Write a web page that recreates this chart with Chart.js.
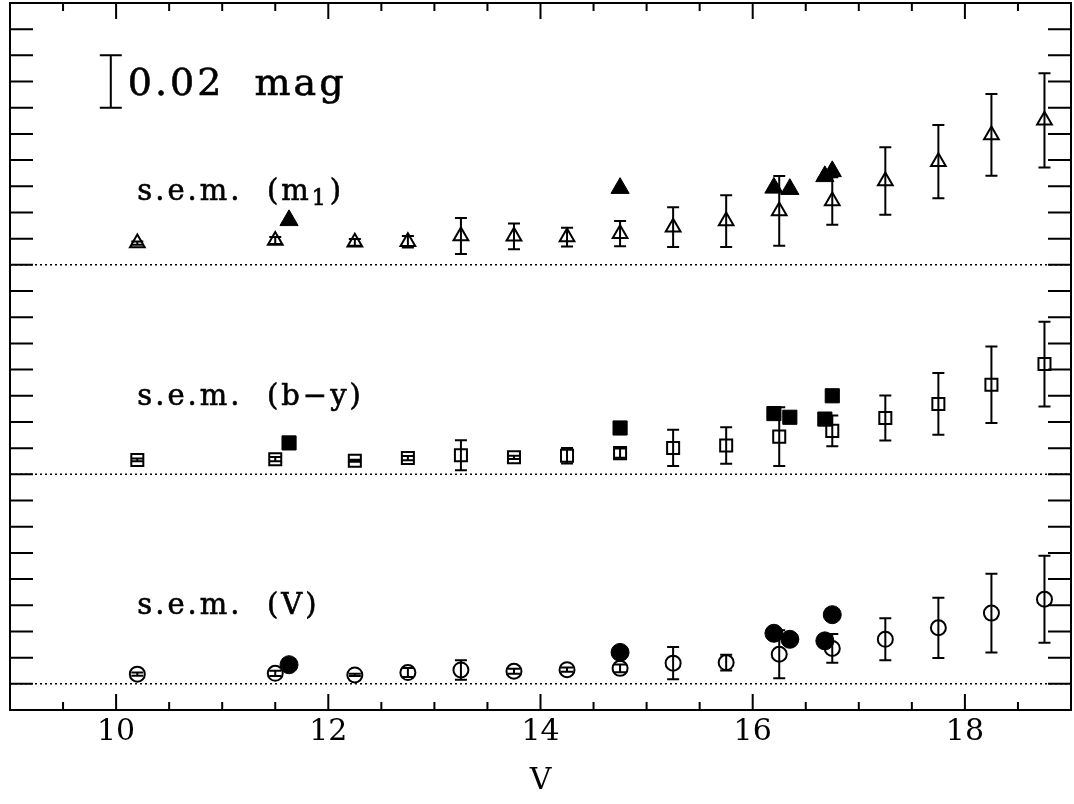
<!DOCTYPE html>
<html>
<head>
<meta charset="utf-8">
<script src="https://cdn.jsdelivr.net/npm/chart.js@4.4.1/dist/chart.umd.min.js"></script>
<style>
	html, body { margin: 0; padding: 0; background: #fff; }
	canvas { display: block; }
</style>
</head>
<body>
<canvas id="chart" width="1074" height="804"></canvas>
<script>
// V bins of the open symbols
const vBins = [10.2, 11.5, 12.25, 12.75, 13.25, 13.75, 14.25, 14.75, 15.25, 15.75, 16.25, 16.75, 17.25, 17.75, 18.25, 18.75];

// s.e.m. per bin (mag) and its scatter
const m1Sem = [0.0083, 0.0093, 0.0086, 0.0088, 0.0110, 0.0109, 0.0106, 0.0119, 0.0144, 0.0167, 0.0206, 0.0244, 0.0320, 0.0394, 0.0496, 0.0552];
const m1Err = [0.0006, 0.0013, 0.0013, 0.0022, 0.0069, 0.0049, 0.0036, 0.0048, 0.0076, 0.0099, 0.0133, 0.0091, 0.0129, 0.0140, 0.0156, 0.0180];
const bySem = [0.0055, 0.0058, 0.0052, 0.0062, 0.0073, 0.0065, 0.0071, 0.0081, 0.0101, 0.0110, 0.0144, 0.0166, 0.0215, 0.0269, 0.0342, 0.0421];
const byErr = [0.0005, 0.0008, 0.0004, 0.0008, 0.0057, 0.0006, 0.0030, 0.0018, 0.0069, 0.0070, 0.0112, 0.0059, 0.0086, 0.0118, 0.0146, 0.0162];
const vSem  = [0.0037, 0.0040, 0.0034, 0.0043, 0.0053, 0.0048, 0.0054, 0.0059, 0.0079, 0.0081, 0.0113, 0.0135, 0.0170, 0.0214, 0.0270, 0.0323];
const vErr  = [0.0006, 0.0010, 0.0004, 0.0017, 0.0037, 0.0010, 0.0008, 0.0015, 0.0062, 0.0030, 0.0092, 0.0055, 0.0080, 0.0115, 0.0150, 0.0166];

// filled symbols
const starV  = [11.63, 14.75, 16.2, 16.35, 16.68, 16.75];
const m1Star = [0.0170, 0.0293, 0.0294, 0.0289, 0.0338, 0.0357];
const byStar = [0.0120, 0.0177, 0.0232, 0.0218, 0.0211, 0.0300];
const vStar  = [0.0073, 0.0120, 0.0193, 0.0170, 0.0164, 0.0264];

const xTicks = [10, 12, 14, 16, 18];
const panelLabels = ['s.e.m.  (m', 's.e.m.  (b\u2212y)', 's.e.m.  (V)'];
const panelBase = [0.16, 0.08, 0];
const scaleBarMag = 0.02;

const serif = '"DejaVu Serif", "Liberation Serif", serif';

function pts(xs, ys, base){
	return xs.map((x, i) => ({x: x, y: base + ys[i]}));
}

const panels = [
	{sem: m1Sem, err: m1Err, star: m1Star, style: 'triangle', r: 8.5, rs: 10.5},
	{sem: bySem, err: byErr, star: byStar, style: 'rect', r: 8.5, rs: 10},
	{sem: vSem, err: vErr, star: vStar, style: 'circle', r: 7.5, rs: 9}
];

let datasets = [];
panels.forEach((p, i) => {
	datasets.push({
		data: pts(vBins, p.sem, panelBase[i]),
		errs: p.err,
		showLine: false,
		pointStyle: p.style,
		pointRadius: p.r,
		pointBorderWidth: 2,
		borderColor: '#000',
		backgroundColor: 'rgba(0,0,0,0)'
	});
	datasets.push({
		data: pts(starV, p.star, panelBase[i]),
		showLine: false,
		pointStyle: p.style,
		pointRadius: p.rs,
		pointBorderWidth: 1,
		borderColor: '#000',
		backgroundColor: '#000'
	});
});

// text a little heavier, like the plotter font
function heavyText(ctx, t, x, y){
	ctx.fillText(t, x, y);
	ctx.strokeText(t, x, y);
}

// frame, inward ticks, dotted zero lines, error bars and labels
const decor = {
	id: 'decor',
	beforeDatasetsDraw(chart){
		const ctx = chart.ctx, xs = chart.scales.x, ys = chart.scales.y, a = chart.chartArea;
		ctx.save();
		ctx.strokeStyle = '#000';
		ctx.lineWidth = 1.5;
		ctx.setLineDash([2, 3]);
		panelBase.forEach(b => {
			let y = ys.getPixelForValue(b);
			ctx.beginPath();
			ctx.moveTo(a.left, y);
			ctx.lineTo(a.right, y);
			ctx.stroke();
		});
		ctx.setLineDash([]);
		ctx.lineWidth = 2;
		chart.data.datasets.forEach(ds => {
			if (!ds.errs) return;
			ds.data.forEach((p, i) => {
				let x = xs.getPixelForValue(p.x);
				let y1 = ys.getPixelForValue(p.y - ds.errs[i]);
				let y2 = ys.getPixelForValue(p.y + ds.errs[i]);
				ctx.beginPath();
				ctx.moveTo(x, y1); ctx.lineTo(x, y2);
				ctx.moveTo(x - 6, y1); ctx.lineTo(x + 6, y1);
				ctx.moveTo(x - 6, y2); ctx.lineTo(x + 6, y2);
				ctx.stroke();
			});
		});
		ctx.restore();
	},
	afterDraw(chart){
		const ctx = chart.ctx, xs = chart.scales.x, ys = chart.scales.y, a = chart.chartArea;
		ctx.save();
		ctx.strokeStyle = '#000';
		ctx.fillStyle = '#000';
		ctx.lineWidth = 2;
		ctx.strokeRect(a.left, a.top, a.right - a.left, a.bottom - a.top);

		// y ticks every 0.01 mag, both sides
		ctx.beginPath();
		for (let k = 0; k < 26; k++){
			let y = ys.getPixelForValue(k / 100);
			ctx.moveTo(a.left, y); ctx.lineTo(a.left + 23, y);
			ctx.moveTo(a.right, y); ctx.lineTo(a.right - 23, y);
		}
		// x ticks every 0.5, long at labelled values
		for (let k = 19; k <= 37; k++){
			let v = k / 2;
			let x = xs.getPixelForValue(v);
			let len = xTicks.indexOf(v) >= 0 ? 16 : 8;
			ctx.moveTo(x, a.bottom); ctx.lineTo(x, a.bottom - len);
			ctx.moveTo(x, a.top); ctx.lineTo(x, a.top + len);
		}
		ctx.stroke();

		// 0.02 mag scale bar
		let bx = xs.getPixelForValue(9.95);
		let b1 = ys.getPixelForValue(0.22), b2 = ys.getPixelForValue(0.22 + scaleBarMag);
		ctx.beginPath();
		ctx.moveTo(bx, b1); ctx.lineTo(bx, b2);
		ctx.moveTo(bx - 11, b1); ctx.lineTo(bx + 11, b1);
		ctx.moveTo(bx - 11, b2); ctx.lineTo(bx + 11, b2);
		ctx.stroke();
		ctx.lineWidth = 0.6;
		ctx.font = '38px ' + serif;
		ctx.letterSpacing = '3px';
		ctx.textBaseline = 'alphabetic';
		heavyText(ctx, scaleBarMag.toFixed(2) + '  mag', xs.getPixelForValue(10.11), ys.getPixelForValue(0.225));

		// panel labels
		ctx.font = '29px ' + serif;
		ctx.letterSpacing = '3px';
		panelLabels.forEach((t, i) => {
			let x = xs.getPixelForValue(10.2);
			let y = ys.getPixelForValue(panelBase[i] + (i === 0 ? 0.0248 : 0.0265));
			heavyText(ctx, t, x, y);
			if (i === 0){
				let w = ctx.measureText(t).width;
				ctx.font = '22px ' + serif;
				heavyText(ctx, '1', x + w, y + 5);
				let w1 = ctx.measureText('1').width;
				ctx.font = '29px ' + serif;
				heavyText(ctx, ')', x + w + w1 + 1, y);
			}
		});
		ctx.restore();
	}
};

new Chart(document.getElementById('chart'), {
	type: 'scatter',
	data: {datasets: datasets},
	options: {
		responsive: false,
		animation: false,
		layout: {autoPadding: false, padding: {left: 10, right: 3, top: 3, bottom: 0}},
		plugins: {legend: {display: false}, tooltip: {enabled: false}},
		scales: {
			x: {
				type: 'linear',
				min: 9,
				max: 19,
				afterBuildTicks: s => { s.ticks = xTicks.map(v => ({value: v})); },
				afterFit: s => { s.height = 94; },
				grid: {display: false, drawTicks: false},
				border: {display: false},
				ticks: {color: '#000', font: {family: serif, size: 30}, padding: 4, maxRotation: 0, autoSkip: false},
				title: {display: true, text: 'V', color: '#000', font: {family: serif, size: 30}, padding: {top: 0, bottom: 5}}
			},
			y: {type: 'linear', min: -0.01, max: 0.26, display: false}
		}
	},
	plugins: [decor]
});
</script>
</body>
</html>
